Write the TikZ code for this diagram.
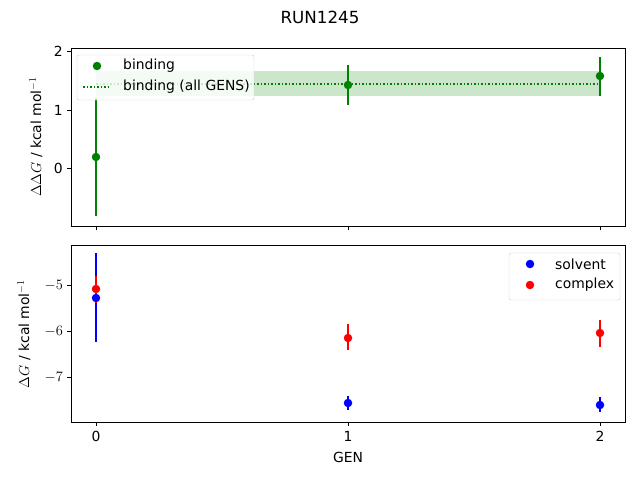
\documentclass[tikz,border=0pt]{standalone}
\usepackage{fontspec}
\setmainfont{DejaVu Sans}
\begin{document}
\begin{tikzpicture}[x=1pt,y=-1pt,
  lab/.style={font=\fontsize{13.9}{16}\selectfont,inner sep=0},
  ax/.style={draw=black,line width=0.8pt},
  tick/.style={line width=0.8pt},
  eb/.style={line width=1.5pt},
  dot/.style={circle,inner sep=0,minimum size=8.5pt}]
\definecolor{mg}{RGB}{0,128,0}
\definecolor{band}{RGB}{204,230,204}
\useasboundingbox (0,0) rectangle (640,480);
\node[font=\fontsize{16.7}{19}\selectfont,inner sep=0] (title) at (320,17) {RUN1245};
% top axes
\fill[band] (96,71) rectangle (600,96);
\draw[mg,dotted,line width=1.5pt] (96,84) -- (600,84);
\draw[eb,mg] (96,98) -- (96,216);
\draw[eb,mg] (348,65) -- (348,105);
\draw[eb,mg] (600,57) -- (600,96);
\node[dot,fill=mg] (t0) at (96,157) {};
\node[dot,fill=mg] (t1) at (348,85) {};
\node[dot,fill=mg] (t2) at (600,76) {};
\draw[ax] (71,48) rectangle (625,226);
\foreach \v/\y in {2/51,1/110,0/168.5}{
  \draw[tick] (71,\y) -- (67,\y);
  \node[lab,anchor=east] at (63,\y) {\v};}
\foreach \x in {96,348,600}{\draw[tick] (\x,226) -- (\x,230);}
\node[lab,rotate=90] (yl1) at (36,137) {$\Delta\Delta G$ / kcal mol$^{-1}$};
% top legend
\draw[fill=white,fill opacity=0.8,draw=black!20,rounded corners=2pt] (77,55) rectangle (254,100);
\node[dot,fill=mg] (lg1) at (97,66) {};
\node[lab,anchor=west] (lgt1) at (123,66) {binding};
\draw[mg,dotted,line width=1.5pt] (83,87) -- (111,87);
\node[lab,anchor=west] (lgt2) at (123,87) {binding (all GENS)};
% bottom axes
\draw[eb,blue] (96,253) -- (96,342);
\draw[eb,blue] (348,396) -- (348,410);
\draw[eb,blue] (600,397) -- (600,412);
\draw[eb,red] (96,276) -- (96,303);
\draw[eb,red] (348,324) -- (348,350);
\draw[eb,red] (600,320) -- (600,347);
\node[dot,fill=blue] (s0) at (96,298) {};
\node[dot,fill=blue] (s1) at (348,403) {};
\node[dot,fill=blue] (s2) at (600,405) {};
\node[dot,fill=red] (c0) at (96,289) {};
\node[dot,fill=red] (c1) at (348,338) {};
\node[dot,fill=red] (c2) at (600,333) {};
\draw[ax] (71,245) rectangle (625,422);
\foreach \v/\y in {$-5$/285,$-6$/331,$-7$/377}{
  \draw[tick] (71,\y) -- (67,\y);
  \node[lab,anchor=east] at (63,\y) {\v};}
\foreach \v/\x in {0/96,1/348,2/600}{
  \draw[tick] (\x,422) -- (\x,426);
  \node[lab,anchor=north] at (\x,431) {\v};}
\node[lab] (xl) at (348,457) {GEN};
\node[lab,rotate=90] (yl2) at (24,334) {$\Delta G$ / kcal mol$^{-1}$};
% bottom legend
\draw[fill=white,fill opacity=0.8,draw=black!20,rounded corners=2pt] (509,253) rectangle (620,300);
\node[dot,fill=blue] (lb1) at (530,264) {};
\node[lab,anchor=west] (lbt1) at (555,264) {solvent};
\node[dot,fill=red] (lb2) at (530,285) {};
\node[lab,anchor=west] (lbt2) at (555,285) {complex};
\end{tikzpicture}
\end{document}
